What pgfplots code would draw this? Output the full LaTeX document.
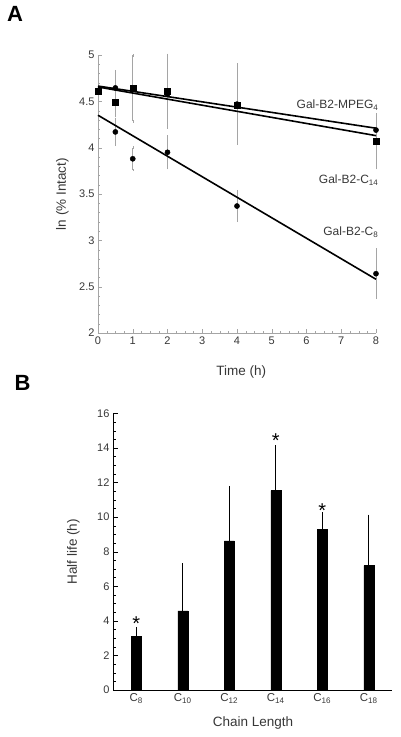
\documentclass[border=0pt]{standalone}
\usepackage{pgfplots}
\pgfplotsset{compat=1.18}
\usepackage{fontspec}
\setmainfont{Liberation Sans}
\definecolor{txt}{RGB}{55,55,55}
\definecolor{ebar}{RGB}{165,165,165}
\begin{document}
\begin{tikzpicture}
\useasboundingbox (0pt,0pt) rectangle (400pt,-737pt);
\node[font=\fontsize{22}{22}\selectfont\bfseries] at (15pt,-14pt) {A};
\node[font=\fontsize{22}{22}\selectfont\bfseries] at (22.5pt,-382.5pt) {B};
% ---------------- Panel A ----------------
\begin{axis}[
  at={(98pt,-333pt)}, anchor=south west,
  scale only axis, width=278pt, height=278pt,
  xmin=0, xmax=8, ymin=2, ymax=5,
  axis x line*=bottom, axis y line*=left,
  axis line style={ebar,-},
  xtick={0,1,...,8}, ytick={2,2.5,...,5},
  minor x tick num=3, minor y tick num=4,
  tick align=inside,
  tick style={ebar},
  major tick length=4pt, minor tick length=2pt,
  /pgf/number format/assume math mode=true,
  ticklabel style={font=\fontsize{11}{12}\selectfont, text=txt},
  xlabel={Time (h)}, ylabel={ln (\% Intact)},
  xlabel style={font=\fontsize{13.5}{14}\selectfont, text=txt, at={(axis description cs:0.515,-0.139)}, anchor=center},
  ylabel style={font=\fontsize{13.5}{14}\selectfont, text=txt, at={(axis description cs:-0.128,0.5)}, anchor=center},
  clip=false,
]
% error bars
\addplot[draw=none, mark=none, error bars/.cd, y dir=both, y explicit,
  error bar style={ebar, line width=0.6pt}, error mark options={ebar, mark size=1.3pt}]
  table[x=t, y=v, y error=e] {
  t v e
  0.5 4.645 0.18
  4 4.47 0.425
  8 4.19 0.17
  };
\addplot[draw=none, mark=none, error bars/.cd, y dir=both, y explicit,
  error bar style={ebar, line width=0.6pt}, error mark options={ebar, mark size=1.3pt}]
  table[x=t, y=v, y error=e] {
  t v e
  0.5 4.49 0.15
  1 4.64 0.355
  2 4.61 0.39
  8 4.07 0.29
  };
\addplot[draw=none, mark=none, error bars/.cd, y dir=both, y explicit,
  error bar style={ebar, line width=0.6pt}, error mark options={ebar, mark size=1.3pt}]
  table[x=t, y=v, y error=e] {
  t v e
  0.5 4.17 0.14
  1 3.88 0.12
  2 3.95 0.17
  4 3.37 0.16
  8 2.64 0.26
  };
% fit lines
\addplot[black, line width=1.6pt, mark=none] coordinates {(0,4.665) (8,4.21)};
\addplot[black, line width=1.6pt, mark=none] coordinates {(0,4.655) (8,4.13)};
\addplot[black, line width=1.6pt, mark=none] coordinates {(0,4.35) (8,2.58)};
% data points
\addplot[only marks, mark=*, mark size=2.6pt, black] coordinates {
  (0,4.605) (0.5,4.645) (1,4.63) (2,4.58) (4,4.47) (8,4.19)};
\addplot[only marks, mark=square*, mark size=3pt, black] coordinates {
  (0,4.605) (0.5,4.49) (1,4.64) (2,4.61) (4,4.46) (8,4.07)};
\addplot[only marks, mark=*, mark size=2.6pt, black] coordinates {
  (0,4.605) (0.5,4.17) (1,3.88) (2,3.95) (4,3.37) (8,2.64)};
\node[anchor=east, font=\fontsize{12}{13}\selectfont, text=txt] at (axis cs:8.17,4.46) {Gal-B2-MPEG\textsubscript{4}};
\node[anchor=east, font=\fontsize{12}{13}\selectfont, text=txt] at (axis cs:8.17,3.65) {Gal-B2-C\textsubscript{14}};
\node[anchor=east, font=\fontsize{12}{13}\selectfont, text=txt] at (axis cs:8.17,3.09) {Gal-B2-C\textsubscript{8}};
\end{axis}
% ---------------- Panel B ----------------
\begin{axis}[
  at={(113pt,-690pt)}, anchor=south west,
  scale only axis, width=279pt, height=276.7pt,
  xmin=-0.5, xmax=5.5, ymin=0, ymax=16,
  axis x line*=bottom, axis y line*=left,
  axis line style={black,-},
  xtick={0,1,2,3,4,5},
  xticklabels={C\textsubscript{8},C\textsubscript{10},C\textsubscript{12},C\textsubscript{14},C\textsubscript{16},C\textsubscript{18}},
  ytick={0,2,...,16}, minor y tick num=3,
  x tick style={draw=none},
  y tick style={black},
  tick align=inside,
  major tick length=5pt, minor tick length=2.7pt,
  /pgf/number format/assume math mode=true,
  yticklabel style={font=\fontsize{11}{12}\selectfont, text=txt},
  xticklabel style={font=\fontsize{11.5}{12}\selectfont, text=txt},
  xlabel={Chain Length}, ylabel={Half life (h)},
  xlabel style={font=\fontsize{13.5}{14}\selectfont, text=txt, at={(axis description cs:0.502,-0.119)}, anchor=center},
  ylabel style={font=\fontsize{13.5}{14}\selectfont, text=txt, at={(axis description cs:-0.142,0.5)}, anchor=center},
  clip=false,
]
\addplot[ybar, bar width=10pt, fill=black, draw=black,
  error bars/.cd, y dir=plus, y explicit,
  error bar style={black, line width=0.7pt}, error mark options={black, mark size=2.5pt, line width=0.7pt}]
  table[x=x, y=v, y error=e] {
  x v e
  0 3.12 0.39
  1 4.57 2.62
  2 8.62 3.04
  3 11.53 2.48
  4 9.31 0.81
  5 7.19 2.80
  };
\node[font=\fontsize{20}{20}\selectfont] at (axis cs:0,3.85) {*};
\node[font=\fontsize{20}{20}\selectfont] at (axis cs:3,14.4) {*};
\node[font=\fontsize{20}{20}\selectfont] at (axis cs:4,10.4) {*};
\end{axis}
\end{tikzpicture}
\end{document}
